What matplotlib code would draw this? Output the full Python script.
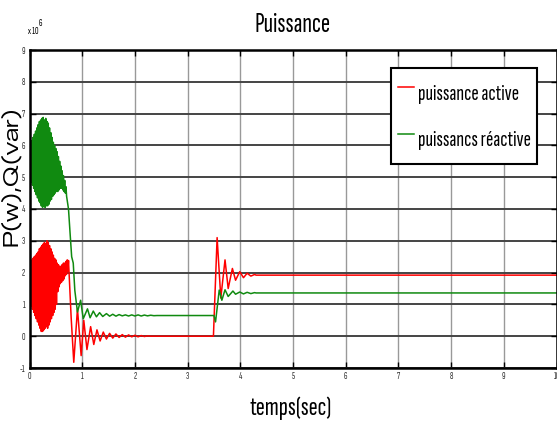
import matplotlib
matplotlib.use("Agg")
import matplotlib.pyplot as plt
from matplotlib import font_manager

# ---------------- data (values in units of 1e6) ----------------
t_p = [0.0, 0.004, 0.012,
       0.020, 0.032, 0.044, 0.056, 0.068, 0.080, 0.092, 0.104, 0.116, 0.128,
       0.140, 0.152, 0.164, 0.176, 0.188, 0.200, 0.212, 0.224, 0.236, 0.248,
       0.260, 0.272, 0.284, 0.296, 0.308, 0.320, 0.332, 0.344, 0.356, 0.368,
       0.380, 0.392, 0.404, 0.416, 0.428, 0.440, 0.452, 0.464, 0.476, 0.488,
       0.500, 0.512, 0.524, 0.536, 0.548, 0.560, 0.572, 0.584, 0.596, 0.608,
       0.620, 0.632, 0.644, 0.656, 0.668, 0.680, 0.692, 0.704, 0.716, 0.728,
       0.740, 0.790, 0.840, 0.910, 0.980, 1.030, 1.090, 1.160, 1.220, 1.280,
       1.340, 1.400, 1.460, 1.520, 1.580, 1.640, 1.700, 1.760, 1.820, 1.880,
       1.940, 2.000, 2.060, 2.120, 2.180, 2.240, 2.300, 3.490, 3.560, 3.630,
       3.710, 3.770, 3.850, 3.910, 3.990, 4.060, 4.130, 4.200, 4.270, 4.300,
       10.0]
p_active = [-0.30, 3.40, 0.90,
            2.35, 0.95, 2.40, 0.85, 2.45, 0.75, 2.50, 0.65, 2.55, 0.55,
            2.60, 0.45, 2.65, 0.35, 2.75, 0.25, 2.80, 0.15, 2.85, 0.15,
            2.90, 0.20, 2.95, 0.25, 2.90, 0.30, 3.00, 0.25, 2.95, 0.35,
            2.85, 0.45, 2.75, 0.55, 2.65, 0.65, 2.55, 0.75, 2.45, 0.85,
            2.40, 1.00, 2.30, 1.40, 2.25, 1.55, 2.20, 1.65, 2.20, 1.70,
            2.25, 1.75, 2.30, 1.80, 2.30, 1.90, 2.35, 1.95, 2.40, 2.05,
            2.38, 0.60, -0.82, 0.86, -0.61, 0.50, -0.42, 0.30, -0.26, 0.20,
            -0.15, 0.13, -0.09, 0.09, -0.06, 0.07, -0.04, 0.05, -0.03, 0.04,
            -0.02, 0.03, -0.02, 0.02, -0.01, 0.01, 0.00, 0.00, 3.10, 1.20,
            2.40, 1.50, 2.13, 1.76, 2.03, 1.84, 1.98, 1.89, 1.94, 1.92,
            1.92]

t_q = [0.0, 0.008,
       0.020, 0.032, 0.044, 0.056, 0.068, 0.080, 0.092, 0.104, 0.116, 0.128,
       0.140, 0.152, 0.164, 0.176, 0.188, 0.200, 0.212, 0.224, 0.236, 0.248,
       0.260, 0.272, 0.284, 0.296, 0.308, 0.320, 0.332, 0.344, 0.356, 0.368,
       0.380, 0.392, 0.404, 0.416, 0.428, 0.440, 0.452, 0.464, 0.476, 0.488,
       0.500, 0.512, 0.524, 0.536, 0.548, 0.560, 0.572, 0.584, 0.596, 0.608,
       0.620, 0.632, 0.644, 0.656, 0.668, 0.680, 0.692, 0.704,
       0.740, 0.770, 0.800, 0.830, 0.860, 0.910, 0.970, 1.020, 1.100, 1.150,
       1.210, 1.270, 1.330, 1.390, 1.460, 1.520, 1.580, 1.640, 1.700, 1.760,
       1.820, 1.880, 1.940, 2.000, 2.060, 2.120, 2.180, 2.240, 2.300, 2.360,
       2.420, 3.500, 3.530, 3.600, 3.650, 3.710, 3.770, 3.860, 3.910, 3.990,
       4.060, 4.130, 4.200, 4.270, 4.300, 10.0]
q_reactive = [8.10, 4.30,
              6.10, 4.85, 6.15, 4.75, 6.25, 4.65, 6.35, 4.55, 6.45, 4.45,
              6.55, 4.35, 6.65, 4.25, 6.75, 4.20, 6.80, 4.10, 6.85, 4.05,
              6.88, 4.08, 6.80, 4.05, 6.85, 4.10, 6.75, 4.10, 6.70, 4.15,
              6.55, 4.25, 6.40, 4.30, 6.25, 4.40, 6.10, 4.45, 6.00, 4.50,
              5.90, 4.55, 5.80, 4.55, 5.65, 4.60, 5.50, 4.65, 5.35, 4.65,
              5.20, 4.60, 5.05, 4.55, 4.90, 4.50, 4.70, 4.40,
              4.00, 3.24, 2.50, 2.30, 1.44, 0.76, 1.13, 0.55, 0.86, 0.58,
              0.79, 0.61, 0.74, 0.62, 0.71, 0.63, 0.69, 0.63, 0.68, 0.64,
              0.67, 0.635, 0.67, 0.635, 0.67, 0.635, 0.665, 0.64, 0.66, 0.645,
              0.65, 0.65, 0.45, 1.45, 1.13, 1.46, 1.25, 1.42, 1.32, 1.39,
              1.33, 1.38, 1.34, 1.37, 1.36, 1.36]

x_ticks = [0, 1, 2, 3, 4, 5, 6, 7, 8, 9, 10]
y_ticks = [-1, 0, 1, 2, 3, 4, 5, 6, 7, 8, 9]
labels = ["puissance active", "puissancs réactive"]

# ---------------- fonts ----------------
names = {f.name for f in font_manager.fontManager.ttflist}
def pick(cands, default):
    for c in cands:
        if c in names:
            return c
    return default

narrow = pick(["Sofia Sans Extra Condensed", "Pathway Gothic One", "Antonio",
               "Roboto Condensed", "Sofia Sans Condensed", "Liberation Sans Narrow"],
              "Liberation Sans")
wide = pick(["Zalando Sans Expanded", "Encode Sans Expanded", "Zalando Sans SemiExpanded",
             "Encode Sans SemiExpanded"], "DejaVu Sans")

# ---------------- figure ----------------
W, H = 557, 428
fig = plt.figure(figsize=(W / 100, H / 100), dpi=100)
left, right, bottom, top = 29.5, 556.5, 368, 50
ax = fig.add_axes([left / W, 1 - bottom / H, (right - left) / W, (bottom - top) / H])

ax.plot(t_p, p_active, color="#ff0000", lw=1.1, label=labels[0])
ax.plot(t_q, q_reactive, color="#108a10", lw=1.1, label=labels[1])

ax.set_xlim(0, 10)
ax.set_ylim(-1, 9)
ax.set_xticks(x_ticks)
ax.set_yticks(y_ticks)
ax.set_xticklabels([str(v) for v in x_ticks], fontsize=7, family=narrow, color="#333333")
ax.set_yticklabels([str(v) for v in y_ticks], fontsize=7, family=narrow, color="#333333")
ax.tick_params(direction="in", length=4, width=1, top=True, right=True, pad=3)

ax.yaxis.grid(True, color="#444444", lw=1.4)
ax.xaxis.grid(True, color="#999999", lw=1.0)
ax.set_axisbelow(True)
for s in ax.spines.values():
    s.set_color("black")
    s.set_linewidth(1.8)

fig.text(293 / W, 1 - 25 / H, "Puissance", ha="center", va="center",
         fontsize=20, family=narrow)
fig.text(291 / W, 1 - 408 / H, "temps(sec)", ha="center", va="center",
         fontsize=19.5, family=narrow)
fig.text(11 / W, 1 - 176 / H, "P(w),Q(var)", ha="center", va="center",
         rotation=90, fontsize=15, family=wide)
fig.text(28 / W, 1 - 32 / H, "x 10", ha="left", va="center", fontsize=7, family=narrow)
fig.text(39 / W, 1 - 24 / H, "6", ha="left", va="center", fontsize=7, family=narrow)

leg = ax.legend(loc="upper left",
                bbox_to_anchor=((391 - left) / (right - left), 1 - (68 - top) / (bottom - top)),
                prop={"family": narrow, "size": 16}, frameon=True, fancybox=False,
                edgecolor="black", handlelength=0.75, handleheight=2.15,
                handletextpad=0.15, borderpad=0.3, labelspacing=0.45,
                borderaxespad=0)
leg.get_frame().set_linewidth(1.5)
leg.get_frame().set_alpha(1)

fig.savefig("out.png", dpi=100)
